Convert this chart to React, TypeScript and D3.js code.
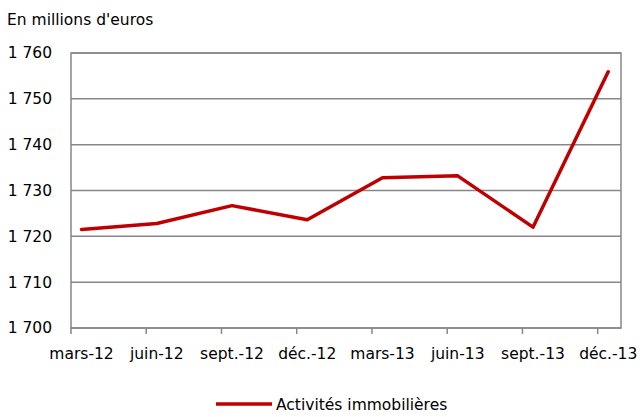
import React, { useEffect, useRef } from 'react';
import * as d3 from 'd3';

const categories = ['mars-12', 'juin-12', 'sept.-12', 'déc.-12', 'mars-13', 'juin-13', 'sept.-13', 'déc.-13'];
const values = [1721.5, 1722.8, 1726.7, 1723.6, 1732.8, 1733.2, 1722.0, 1755.9];
const yTicks = [1700, 1710, 1720, 1730, 1740, 1750, 1760];
const seriesName = 'Activités immobilières';
const unitLabel = "En millions d'euros";

const formatThousands = (v: number) => `${Math.floor(v / 1000)} ${String(v % 1000).padStart(3, '0')}`;

const App = () => {
    const ref = useRef<SVGSVGElement | null>(null);

    useEffect(() => {
        const width = 640;
        const height = 417;
        const margin = { top: 53, right: 19, bottom: 89, left: 71 };
        const innerW = width - margin.left - margin.right;
        const innerH = height - margin.top - margin.bottom;
        const font = 'Tahoma, Verdana, "DejaVu Sans", sans-serif';
        const fontSize = 15.5;

        const svg = d3.select(ref.current);
        svg.selectAll('*').remove();

        const g = svg.append('g')
            .attr('transform', `translate(${margin.left}, ${margin.top})`);

        // date axis: ticks at start of quarter, points a bit later
        const pointOffset = 0.14;
        const xScale = d3.scaleLinear()
            .domain([0, 7.31])
            .range([0, innerW]);
        const yScale = d3.scaleLinear()
            .domain([1700, 1760])
            .range([innerH, 0]);

        // gridlines
        g.selectAll('.grid')
            .data(yTicks)
            .enter()
            .append('line')
            .attr('class', 'grid')
            .attr('x1', 0)
            .attr('x2', innerW)
            .attr('y1', d => yScale(d))
            .attr('y2', d => yScale(d))
            .attr('stroke', '#878787')
            .attr('stroke-width', 1.5);

        // frame
        g.append('rect')
            .attr('x', 0)
            .attr('y', 0)
            .attr('width', innerW)
            .attr('height', innerH)
            .attr('fill', 'none')
            .attr('stroke', '#878787')
            .attr('stroke-width', 1.5);

        // x tick marks
        g.selectAll('.xtick')
            .data(categories)
            .enter()
            .append('line')
            .attr('class', 'xtick')
            .attr('x1', (d, i) => xScale(i))
            .attr('x2', (d, i) => xScale(i))
            .attr('y1', innerH)
            .attr('y2', innerH + 6)
            .attr('stroke', '#878787')
            .attr('stroke-width', 1.5);

        // y labels
        g.selectAll('.ylabel')
            .data(yTicks)
            .enter()
            .append('text')
            .attr('class', 'ylabel')
            .attr('x', -19)
            .attr('y', d => yScale(d))
            .attr('dy', '0.35em')
            .attr('text-anchor', 'end')
            .attr('font-family', font)
            .attr('font-size', fontSize)
            .attr('fill', '#000')
            .text(d => formatThousands(d));

        // x labels
        g.selectAll('.xlabel')
            .data(categories)
            .enter()
            .append('text')
            .attr('class', 'xlabel')
            .attr('x', (d, i) => xScale(i + pointOffset))
            .attr('y', innerH + 31)
            .attr('text-anchor', 'middle')
            .attr('font-family', font)
            .attr('font-size', fontSize)
            .attr('fill', '#000')
            .text(d => d);

        const line = d3.line<number>()
            .x((d, i) => xScale(i + pointOffset))
            .y(d => yScale(d));

        g.append('path')
            .attr('d', line(values))
            .attr('fill', 'none')
            .attr('stroke', '#C00000')
            .attr('stroke-width', 3.5)
            .attr('stroke-linejoin', 'round')
            .attr('stroke-linecap', 'round');

        svg.append('text')
            .attr('x', 7)
            .attr('y', 25)
            .attr('font-family', font)
            .attr('font-size', fontSize)
            .attr('fill', '#000')
            .text(unitLabel);

        // legend
        const legend = svg.append('g');
        legend.append('line')
            .attr('x1', 216)
            .attr('x2', 272)
            .attr('y1', 404)
            .attr('y2', 404)
            .attr('stroke', '#C00000')
            .attr('stroke-width', 3.5);
        legend.append('text')
            .attr('x', 276)
            .attr('y', 410)
            .attr('font-family', font)
            .attr('font-size', fontSize)
            .attr('fill', '#000')
            .text(seriesName);
    }, []);

    return (
        <svg ref={ref} width={640} height={417} style={{ position: 'absolute', left: 0, top: 0, background: '#fff' }}></svg>
    );
};

export default App;
